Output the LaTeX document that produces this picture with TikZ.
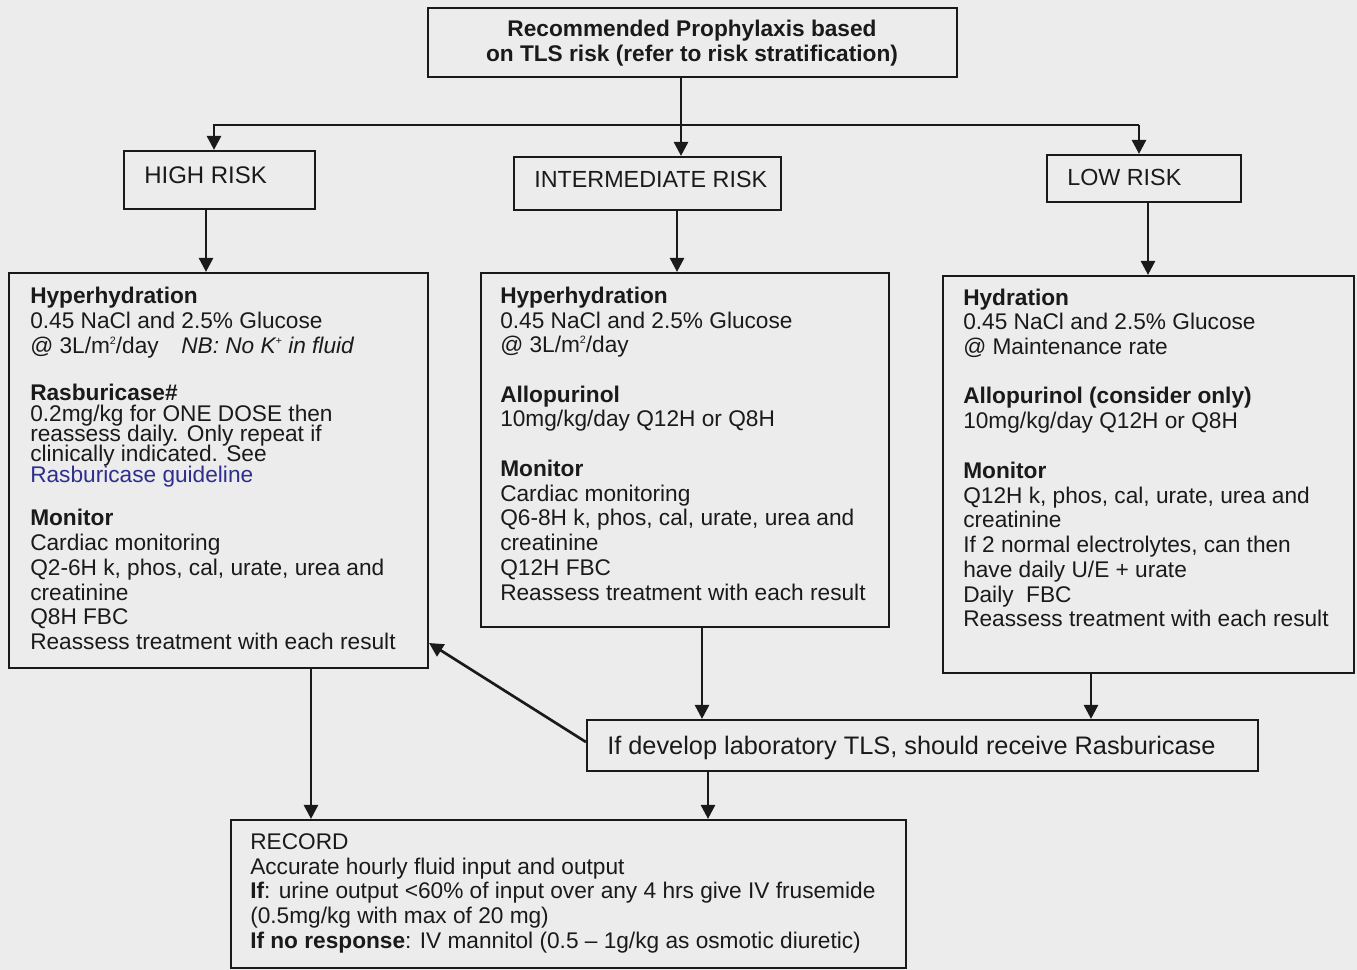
\documentclass[tikz,border=0pt]{standalone}
\usepackage{fontspec}
\setmainfont{Liberation Sans}
\usetikzlibrary{arrows.meta,calc}
\definecolor{bg}{HTML}{ECECEC}
\definecolor{ink}{HTML}{1A1A1A}
\definecolor{lnk}{HTML}{2E2E8E}
\newcommand\txtline[4]{\node[txt] (#1) at (#2,{#3+7}) {#4};}
\newcommand\mkbox[5]{\node[boxst, minimum width={(#4-#2)*0.75pt}, minimum height={(#5-#3)*0.75pt}] (#1) at ({(#2+#4)/2},{(#3+#5)/2}) {};}
\newcommand\smsup[1]{\raisebox{0.75ex}{\fontsize{8}{8}\selectfont #1}}
\begin{document}
\begin{tikzpicture}[x=0.75pt,y=-0.75pt,
  boxst/.style={draw=ink, line width=1.6pt, inner sep=0pt, rectangle},
  txt/.style={anchor=base west, inner sep=0pt, text=ink, font=\fontsize{17}{20}\selectfont},
  arr/.style={draw=ink, line width=2pt, -{Triangle[length=10.5pt,width=10.5pt]}},
  conn/.style={draw=ink, line width=2pt}]
\fill[bg] (0,0) rectangle (1357,970);
\useasboundingbox (0,0) rectangle (1357,970);
% boxes
\mkbox{top}{428}{8}{957}{77}
\mkbox{hr}{124}{151}{315}{209}
\mkbox{im}{514}{157}{781}{210}
\mkbox{lr}{1047}{155}{1241}{202}
\mkbox{lb}{9}{273}{428}{668}
\mkbox{mb}{481}{273}{889}{627}
\mkbox{rb}{943}{276}{1354}{673}
\mkbox{tls}{587}{720}{1258}{771}
\mkbox{rec}{231}{820}{906}{968}
% title
\node[txt, anchor=base, font=\bfseries\fontsize{17}{20}\selectfont] (t1) at (692,37) {Recommended Prophylaxis based};
\node[txt, anchor=base, font=\bfseries\fontsize{17}{20}\selectfont] (t2) at (692,62) {on TLS risk (refer to risk stratification)};
% risk labels
\node[txt, font=\fontsize{18}{20}\selectfont] (hrt) at (144,184) {HIGH RISK};
\node[txt, font=\fontsize{17.5}{20}\selectfont] (imt) at (534,188) {INTERMEDIATE RISK};
\node[txt, font=\fontsize{17.5}{20}\selectfont] (lrt) at (1067,186) {LOW RISK};
% left box
\txtline{l1}{30}{296}{\textbf{Hyperhydration}}
\txtline{l2}{30}{321}{0.45 NaCl and 2.5\% Glucose}
\txtline{l3}{30}{346}{@ 3L/m\smsup{2}/day}
\txtline{l3b}{181}{346}{\textit{NB: No K\smsup{+} in fluid}}
\txtline{l4}{30}{393}{\textbf{Rasburicase\#}}
\txtline{l5}{30}{414}{0.2mg/kg for ONE DOSE then}
\txtline{l6}{30}{434}{reassess daily. Only repeat if}
\txtline{l7}{30}{454}{clinically indicated. See}
\txtline{l8}{30}{475}{\textcolor{lnk}{Rasburicase guideline}}
\txtline{l9}{30}{518}{\textbf{Monitor}}
\txtline{l10}{30}{543}{Cardiac monitoring}
\txtline{l11}{30}{568}{Q2-6H k, phos, cal, urate, urea and}
\txtline{l12}{30}{593}{creatinine}
\txtline{l13}{30}{617}{Q8H FBC}
\txtline{l14}{30}{642}{Reassess treatment with each result}
% middle box
\txtline{m1}{500}{296}{\textbf{Hyperhydration}}
\txtline{m2}{500}{321}{0.45 NaCl and 2.5\% Glucose}
\txtline{m3}{500}{345}{@ 3L/m\smsup{2}/day}
\txtline{m4}{500}{395}{\textbf{Allopurinol}}
\txtline{m5}{500}{419}{10mg/kg/day Q12H or Q8H}
\txtline{m6}{500}{469}{\textbf{Monitor}}
\txtline{m7}{500}{494}{Cardiac monitoring}
\txtline{m8}{500}{518}{Q6-8H k, phos, cal, urate, urea and}
\txtline{m9}{500}{543}{creatinine}
\txtline{m10}{500}{568}{Q12H FBC}
\txtline{m11}{500}{593}{Reassess treatment with each result}
% right box
\txtline{r1}{963}{298}{\textbf{Hydration}}
\txtline{r2}{963}{322}{0.45 NaCl and 2.5\% Glucose}
\txtline{r3}{963}{347}{@ Maintenance rate}
\txtline{r4}{963}{396}{\textbf{Allopurinol (consider only)}}
\txtline{r5}{963}{421}{10mg/kg/day Q12H or Q8H}
\txtline{r6}{963}{471}{\textbf{Monitor}}
\txtline{r7}{963}{496}{Q12H k, phos, cal, urate, urea and}
\txtline{r8}{963}{520}{creatinine}
\txtline{r9}{963}{545}{If 2 normal electrolytes, can then}
\txtline{r10}{963}{570}{have daily U/E + urate}
\txtline{r11}{963}{595}{Daily\ \ FBC}
\txtline{r12}{963}{619}{Reassess treatment with each result}
% TLS box
\node[txt, font=\fontsize{19}{22}\selectfont] (tlst) at (607,754) {If develop laboratory TLS, should receive Rasburicase};
% record box
\txtline{c1}{250}{842}{RECORD}
\txtline{c2}{250}{867}{Accurate hourly fluid input and output}
\txtline{c3}{250}{891}{\textbf{If}: urine output <60\% of input over any 4 hrs give IV frusemide}
\txtline{c4}{250}{916}{(0.5mg/kg with max of 20 mg)}
\txtline{c5}{250}{941}{\textbf{If no response}: IV mannitol (0.5 -- 1g/kg as osmotic diuretic)}
% connectors
\coordinate (xa) at (681,0);
\coordinate (bl) at (214,125);
\coordinate (br) at (1139,125);
\coordinate (xh) at (206,0);
\coordinate (xi) at (677,0);
\coordinate (xl) at (1148,0);
\coordinate (xm) at (702,0);
\coordinate (xr) at (1091,0);
\coordinate (xt) at (708,0);
\coordinate (xb) at (311,0);
\coordinate (yd) at (0,643);
\coordinate (ys) at (0,742);
\draw[arr] (top.south -| xa) -- (im.north -| xa);
\draw[arr] (br) -- (bl) -- (hr.north -| bl);
\draw[arr] (br) -- (lr.north -| br);
\draw[arr] (hr.south -| xh) -- (lb.north -| xh);
\draw[arr] (im.south -| xi) -- (mb.north -| xi);
\draw[arr] (lr.south -| xl) -- (rb.north -| xl);
\draw[arr] (mb.south -| xm) -- (tls.north -| xm);
\draw[arr] (rb.south -| xr) -- (tls.north -| xr);
\draw[arr] (tls.south -| xt) -- (rec.north -| xt);
\draw[arr] (lb.south -| xb) -- (rec.north -| xb);
\draw[arr] (tls.west |- ys) -- (lb.east |- yd);
\end{tikzpicture}
\end{document}
